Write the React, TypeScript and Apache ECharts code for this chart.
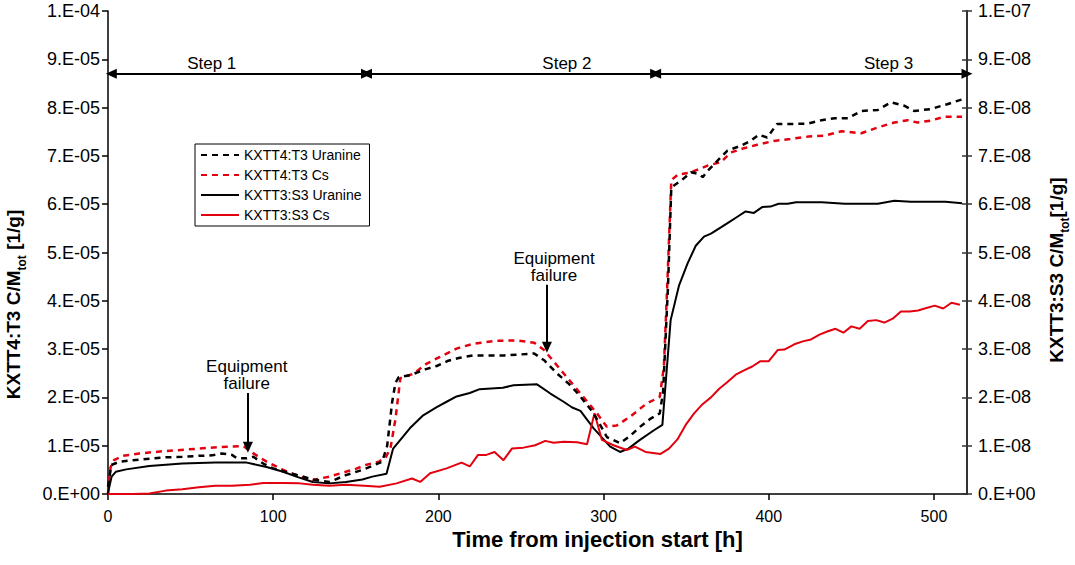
import React, { useEffect, useRef } from 'react';
import * as echarts from 'echarts';

const FONT = '"Liberation Sans", Arial, sans-serif';
const RED = '#e3000f';

// KXTT4:T3 Uranine (left axis, values x1e-5)
const T3_U_H = [0, 2, 7, 15, 25, 35, 45, 55, 63, 69, 75, 78, 84, 88, 94, 100, 110, 116, 124, 134, 144, 154, 160, 166, 169, 172, 174, 176, 183, 192, 199, 206, 213, 221, 230, 240, 250, 258, 264, 272, 279, 285, 294, 302, 310, 316, 322, 328, 334, 336, 339, 341, 347, 353, 358, 360, 363, 369, 375, 383, 389, 394, 399, 405, 413, 424, 432, 440, 448, 456, 466, 474, 482, 488, 498, 508, 517];
const T3_U_V = [0.15, 0.6, 0.67, 0.70, 0.73, 0.76, 0.77, 0.79, 0.80, 0.84, 0.81, 0.74, 0.74, 0.77, 0.63, 0.53, 0.43, 0.38, 0.30, 0.25, 0.39, 0.50, 0.58, 0.67, 1.0, 1.9, 2.3, 2.42, 2.46, 2.58, 2.65, 2.76, 2.82, 2.87, 2.87, 2.87, 2.89, 2.91, 2.77, 2.49, 2.28, 2.06, 1.67, 1.18, 1.05, 1.2, 1.39, 1.55, 1.67, 2.1, 4.3, 6.35, 6.49, 6.66, 6.62, 6.56, 6.69, 6.9, 7.11, 7.21, 7.31, 7.44, 7.38, 7.66, 7.66, 7.67, 7.74, 7.78, 7.78, 7.93, 7.95, 8.11, 8.04, 7.93, 7.97, 8.07, 8.17];

// KXTT4:T3 Cs (left axis, values x1e-5)
const T3_CS_H = [0, 1.6, 3.6, 9, 19, 35, 55, 72, 82, 88, 96, 106, 116, 124, 134, 144, 150, 156, 164, 168, 171, 174, 177, 185, 193, 201, 211, 221, 235, 248, 258, 264, 276, 286, 296, 302, 308, 316, 326, 334, 336.5, 338.5, 341, 345, 353, 363, 371, 377, 385, 393, 403, 413, 424, 434, 444, 456, 466, 476, 484, 490, 498, 506, 517];
const T3_CS_V = [0.02, 0.56, 0.70, 0.79, 0.84, 0.89, 0.94, 0.98, 0.99, 0.84, 0.67, 0.50, 0.36, 0.29, 0.36, 0.46, 0.52, 0.60, 0.67, 0.75, 0.95, 1.55, 2.4, 2.49, 2.70, 2.84, 3.01, 3.11, 3.17, 3.18, 3.13, 2.98, 2.49, 2.08, 1.67, 1.39, 1.42, 1.6, 1.87, 2.01, 2.63, 4.28, 6.5, 6.61, 6.66, 6.80, 6.87, 7.07, 7.16, 7.23, 7.31, 7.35, 7.40, 7.42, 7.51, 7.47, 7.59, 7.69, 7.74, 7.69, 7.73, 7.81, 7.81];

// KXTT3:S3 Uranine (right axis, values x1e-8)
const S3_U_H = [0, 0.6, 2.2, 4.7, 11, 25, 45, 65, 84, 96, 106, 114, 124, 134, 144, 154, 160, 168.6, 172.6, 182.7, 190.8, 199, 205, 211, 219, 225, 239, 245.5, 259.7, 267.8, 275.8, 281, 286, 294, 304, 310, 315, 322, 330.5, 335.6, 340.6, 345.7, 350.8, 355.8, 360.8, 365, 371, 376, 381, 386, 391, 396, 401, 406, 411.5, 416.5, 432, 446, 456, 466, 476, 486, 496, 507, 517];
const S3_U_V = [0.01, 0.12, 0.36, 0.46, 0.51, 0.58, 0.63, 0.65, 0.65, 0.56, 0.46, 0.36, 0.25, 0.22, 0.25, 0.30, 0.36, 0.42, 0.94, 1.36, 1.63, 1.80, 1.91, 2.02, 2.09, 2.17, 2.20, 2.25, 2.27, 2.08, 1.91, 1.79, 1.72, 1.36, 0.98, 0.87, 0.94, 1.12, 1.32, 1.43, 3.60, 4.32, 4.77, 5.14, 5.33, 5.39, 5.52, 5.63, 5.74, 5.85, 5.82, 5.94, 5.95, 6.01, 6.01, 6.04, 6.04, 6.01, 6.01, 6.01, 6.07, 6.05, 6.05, 6.05, 6.02];

// KXTT3:S3 Cs (right axis, values x1e-8)
const S3_CS_H = [0, 5, 15, 25, 35, 45, 55, 65, 75, 86, 94, 106, 116, 124, 134, 144, 155, 164.5, 174.7, 184, 189, 195, 205, 214, 219, 224, 229, 234, 239.4, 244.5, 251.5, 258.6, 264.7, 269.8, 275.8, 284, 290, 294.5, 299, 306, 314, 319, 325.4, 334.5, 339.6, 344.7, 349.7, 354.8, 359.9, 365, 370, 375, 380, 385, 390, 395, 400, 405.4, 409.4, 415.5, 420.6, 425.6, 430.7, 435.8, 440.4, 445.2, 450, 455, 460, 465, 470, 475, 480, 485.3, 490.4, 495.4, 500.5, 505.6, 510.6, 515.7];
const S3_CS_V = [0.0, 0.0, 0.0, 0.01, 0.07, 0.10, 0.14, 0.17, 0.17, 0.19, 0.23, 0.23, 0.22, 0.19, 0.17, 0.19, 0.17, 0.15, 0.22, 0.32, 0.25, 0.43, 0.53, 0.65, 0.57, 0.81, 0.81, 0.87, 0.70, 0.94, 0.96, 1.01, 1.10, 1.06, 1.08, 1.07, 1.03, 1.67, 1.12, 1.01, 0.91, 0.98, 0.87, 0.83, 0.94, 1.13, 1.43, 1.67, 1.86, 2.0, 2.18, 2.32, 2.47, 2.56, 2.64, 2.75, 2.75, 2.98, 2.99, 3.10, 3.16, 3.20, 3.30, 3.37, 3.42, 3.34, 3.47, 3.42, 3.58, 3.60, 3.55, 3.63, 3.78, 3.78, 3.80, 3.85, 3.90, 3.84, 3.96, 3.92];

const LEFT_UNIT = 1e-5;
const RIGHT_UNIT = 1e-8;

const SERIES_NAMES = ['KXTT4:T3 Uranine', 'KXTT4:T3 Cs', 'KXTT3:S3 Uranine', 'KXTT3:S3 Cs'];

// Annotations (data coordinates, left axis)
const STEP_LABELS = ['Step 1', 'Step 2', 'Step 3'];
const STEP_LABEL_X = [62.8, 277.8, 472.5];
const STEP_LABEL_Y = 8.92e-5;
const STEP_BOUNDS = [2, 156.5, 331.5, 520];
const STEP_ARROW_Y = 8.70e-5;
const FAILURE_ARROW_X = [84.7, 265.7];
const FAILURE_ARROW_TOP = [2.09e-5, 4.33e-5];
const FAILURE_ARROW_TIP = [0.97e-5, 3.04e-5];
const FAILURE_TEXT_X = [84, 270];
const FAILURE_TEXT_Y = [2.46e-5, 4.71e-5];

const fmt = (v: number) => {
  if (v === 0) return '0.E+00';
  const [m, e] = v.toExponential(0).split('e');
  const n = parseInt(e, 10);
  return `${m}.E${n < 0 ? '-' : '+'}${String(Math.abs(n)).padStart(2, '0')}`;
};

const pairs = (h: number[], v: number[], unit: number) => h.map((x, i) => [x, v[i] * unit]);

export default function App() {
  const ref = useRef<HTMLDivElement>(null);
  useEffect(() => {
    if (!ref.current) return;
    const chart = echarts.init(ref.current, undefined, { renderer: 'svg' });
    const stepLines = STEP_LABELS.map((_, i) => [
      { coord: [STEP_BOUNDS[i], STEP_ARROW_Y], symbol: 'triangle' },
      { coord: [STEP_BOUNDS[i + 1], STEP_ARROW_Y], symbol: 'triangle' },
    ]);
    const failLines = FAILURE_ARROW_X.map((x, i) => [
      { coord: [x, FAILURE_ARROW_TOP[i]], symbol: 'none' },
      { coord: [x, FAILURE_ARROW_TIP[i]], symbol: 'triangle' },
    ]);
    const option: any = {
      animation: false,
      textStyle: { fontFamily: FONT },
      grid: { left: 108, right: 108, top: 11, bottom: 71, containLabel: false, outerBoundsMode: 'none' },
      legend: {
        left: 195,
        top: 144,
        orient: 'vertical',
        itemWidth: 38,
        itemHeight: 14,
        itemGap: 6,
        padding: [4, 8, 4, 5],
        borderColor: '#000',
        borderWidth: 1,
        borderRadius: 0,
        backgroundColor: '#fff',
        itemStyle: { opacity: 0 },
        textStyle: { fontFamily: FONT, fontSize: 14, color: '#000' },
        data: SERIES_NAMES,
      },
      xAxis: {
        type: 'value',
        min: 0,
        max: 520,
        interval: 100,
        name: 'Time from injection start [h]',
        nameLocation: 'middle',
        nameGap: 34,
        nameTextStyle: { fontFamily: FONT, fontSize: 22, fontWeight: 'bold', color: '#000', padding: [0, 0, 0, 120] },
        axisLine: { lineStyle: { color: '#000', width: 1.5 } },
        axisTick: { length: 6, lineStyle: { color: '#000', width: 1.5 } },
        axisLabel: { fontFamily: FONT, fontSize: 16, color: '#000', margin: 14, showMaxLabel: false },
        splitLine: { show: false },
      },
      yAxis: [
        {
          type: 'value',
          position: 'left',
          min: 0,
          max: 1e-4,
          interval: 1e-5,
          name: '{a|KXTT4:T3 C/M}{b|tot}{a| [1/g]}',
          nameLocation: 'middle',
          nameRotate: 90,
          nameGap: 80,
          nameTextStyle: {
            padding: [0, 104, 0, 0],
            rich: {
              a: { fontFamily: FONT, fontSize: 19, fontWeight: 'bold', color: '#000', lineHeight: 22, verticalAlign: 'middle' },
              b: { fontFamily: FONT, fontSize: 12, fontWeight: 'bold', color: '#000', lineHeight: 30, verticalAlign: 'bottom' },
            },
          },
          axisLine: { show: true, lineStyle: { color: '#000', width: 1.5 } },
          axisTick: { show: true, length: 6, lineStyle: { color: '#000', width: 1.5 } },
          axisLabel: { fontFamily: FONT, fontSize: 18, color: '#000', margin: 8, formatter: fmt },
          splitLine: { show: false },
        },
        {
          type: 'value',
          position: 'right',
          min: 0,
          max: 1e-7,
          interval: 1e-8,
          name: '{a|KXTT3:S3 C/M}{b|tot}{a|[1/g]}',
          nameLocation: 'middle',
          nameRotate: 90,
          nameGap: 74,
          nameTruncate: { maxWidth: 400 },
          nameTextStyle: {
            padding: [0, 35, 0, 0],
            width: 260,
            overflow: 'none',
            rich: {
              a: { fontFamily: FONT, fontSize: 19, fontWeight: 'bold', color: '#000', lineHeight: 22, verticalAlign: 'middle' },
              b: { fontFamily: FONT, fontSize: 12, fontWeight: 'bold', color: '#000', lineHeight: 30, verticalAlign: 'bottom' },
            },
          },
          axisLine: { show: true, lineStyle: { color: '#333', width: 2 } },
          axisTick: { show: true, length: 5, lineStyle: { color: '#333', width: 1.5 } },
          axisLabel: { fontFamily: FONT, fontSize: 18, color: '#000', margin: 11, formatter: fmt },
          splitLine: { show: false },
        },
        {
          type: 'value',
          position: 'right',
          min: 0,
          max: 1e-7,
          interval: 1e-8,
          axisLine: { show: false },
          axisTick: { show: true, inside: true, length: 5, lineStyle: { color: '#333', width: 1.5 } },
          axisLabel: { show: false },
          splitLine: { show: false },
        },
      ],
      series: [
        {
          name: SERIES_NAMES[0],
          type: 'line',
          yAxisIndex: 0,
          symbol: 'none',
          data: pairs(T3_U_H, T3_U_V, LEFT_UNIT),
          lineStyle: { color: '#000', width: 2.5, type: [6, 5] },
          itemStyle: { color: '#000' },
          z: 3,
          markLine: {
            silent: true,
            animation: false,
            symbolSize: [10, 11],
            label: { show: false },
            lineStyle: { color: '#000', width: 2, type: 'solid' },
            emphasis: { disabled: true },
            data: [...stepLines, ...failLines],
          },
        },
        {
          name: SERIES_NAMES[1],
          type: 'line',
          yAxisIndex: 0,
          symbol: 'none',
          data: pairs(T3_CS_H, T3_CS_V, LEFT_UNIT),
          lineStyle: { color: RED, width: 2.5, type: [6, 5] },
          itemStyle: { color: RED },
          z: 2,
        },
        {
          name: SERIES_NAMES[2],
          type: 'line',
          yAxisIndex: 1,
          symbol: 'none',
          data: pairs(S3_U_H, S3_U_V, RIGHT_UNIT),
          lineStyle: { color: '#000', width: 2 },
          itemStyle: { color: '#000' },
          z: 2,
        },
        {
          name: SERIES_NAMES[3],
          type: 'line',
          yAxisIndex: 1,
          symbol: 'none',
          data: pairs(S3_CS_H, S3_CS_V, RIGHT_UNIT),
          lineStyle: { color: RED, width: 2 },
          itemStyle: { color: RED },
          z: 2,
        },
      ],
    };
    chart.setOption(option);

    const toPx = (x: number, y: number) => chart.convertToPixel({ xAxisIndex: 0, yAxisIndex: 0 }, [x, y]) as number[];
    const graphics: any[] = [];
    STEP_LABELS.forEach((t, i) => {
      const p = toPx(STEP_LABEL_X[i], STEP_LABEL_Y);
      graphics.push({
        type: 'text', x: p[0], y: p[1], silent: true,
        style: { text: t, font: `17px ${FONT}`, fill: '#000', align: 'center', verticalAlign: 'middle' },
      });
    });
    FAILURE_TEXT_X.forEach((x, i) => {
      const p = toPx(x, FAILURE_TEXT_Y[i]);
      graphics.push({
        type: 'text', x: p[0], y: p[1], silent: true,
        style: { text: 'Equipment\nfailure', font: `17px ${FONT}`, lineHeight: 17, fill: '#000', align: 'center', verticalAlign: 'middle' },
      });
    });
    chart.setOption({ graphic: graphics });

    return () => chart.dispose();
  }, []);
  return <div ref={ref} style={{ position: 'absolute', left: 0, top: 0, width: 1075, height: 565 }} />;
}
